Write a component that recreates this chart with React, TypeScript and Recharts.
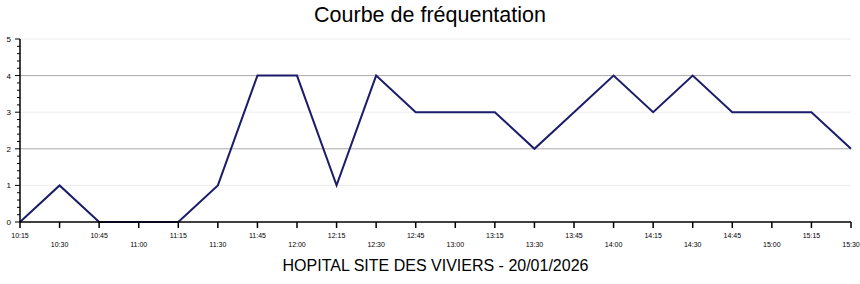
import { LineChart, Line, XAxis, YAxis, ReferenceLine } from "recharts";

const times = [
  "10:15", "10:30", "10:45", "11:00", "11:15", "11:30", "11:45", "12:00",
  "12:15", "12:30", "12:45", "13:00", "13:15", "13:30", "13:45", "14:00",
  "14:15", "14:30", "14:45", "15:00", "15:15", "15:30",
];
const visitors = [0, 1, 0, 0, 0, 1, 4, 4, 1, 4, 3, 3, 3, 2, 3, 4, 3, 4, 3, 3, 3, 2];

const yTicks = Array.from({ length: 26 }, (_, i) => i / 5);
const strongGrid = [2, 4];
const lightGrid = [1, 3, 5];

const title = "Courbe de fréquentation";
const subtitle = "HOPITAL SITE DES VIVIERS - 20/01/2026";

const data = times.map((t, i) => ({ time: t, value: visitors[i] }));

const font = "'Liberation Sans', Arial, Helvetica, sans-serif";

function YTick(props: any) {
  const { x, y, payload } = props;
  const major = Number.isInteger(payload.value);
  return (
    <g>
      <line x1={x - (major ? 5 : 3)} x2={x} y1={y} y2={y} stroke="#000" strokeWidth={1} />
      {major && (
        <text x={x - 9} y={y} dy={3} textAnchor="end" fontSize={8} fill="#000" fontFamily={font}>
          {payload.value}
        </text>
      )}
    </g>
  );
}

function XTick(props: any) {
  const { x, y, payload, index } = props;
  return (
    <text
      x={x}
      y={y}
      dy={index % 2 === 0 ? 10 : 19}
      textAnchor="middle"
      fontSize={7}
      fill="#000"
      fontFamily={font}
    >
      {payload.value}
    </text>
  );
}

export default function App() {
  return (
    <div style={{ position: "absolute", left: 0, top: 0, width: 860, height: 284, background: "#fff" }}>
      <div
        style={{
          position: "absolute",
          left: 0,
          width: 860,
          top: 3,
          textAlign: "center",
          fontFamily: font,
          fontSize: 21.5,
          color: "#000",
        }}
      >
        {title}
      </div>
      <LineChart
        width={860}
        height={284}
        data={data}
        margin={{ top: 39, right: 9, bottom: 32, left: 0 }}
      >
        {lightGrid.map((v) => (
          <ReferenceLine key={"l" + v} y={v} stroke="#ececec" strokeWidth={1} />
        ))}
        {strongGrid.map((v) => (
          <ReferenceLine key={"s" + v} y={v} stroke="#a8a8a8" strokeWidth={1} />
        ))}
        <XAxis
          dataKey="time"
          interval={0}
          height={30}
          tickSize={6}
          tickMargin={0}
          axisLine={{ stroke: "#000", strokeWidth: 1.5 }}
          tickLine={{ stroke: "#000", strokeWidth: 1.5 }}
          tick={<XTick />}
        />
        <YAxis
          width={20}
          domain={[0, 5]}
          ticks={yTicks}
          interval={0}
          tickSize={0}
          tickMargin={0}
          tickLine={false}
          axisLine={{ stroke: "#000", strokeWidth: 1.5 }}
          tick={<YTick />}
        />
        <Line
          type="linear"
          dataKey="value"
          stroke="#1c1c6b"
          strokeWidth={2}
          dot={false}
          activeDot={false}
          isAnimationActive={false}
        />
      </LineChart>
      <div
        style={{
          position: "absolute",
          left: 20,
          width: 831,
          top: 257,
          textAlign: "center",
          fontFamily: font,
          fontSize: 16,
          color: "#000",
        }}
      >
        {subtitle}
      </div>
    </div>
  );
}
